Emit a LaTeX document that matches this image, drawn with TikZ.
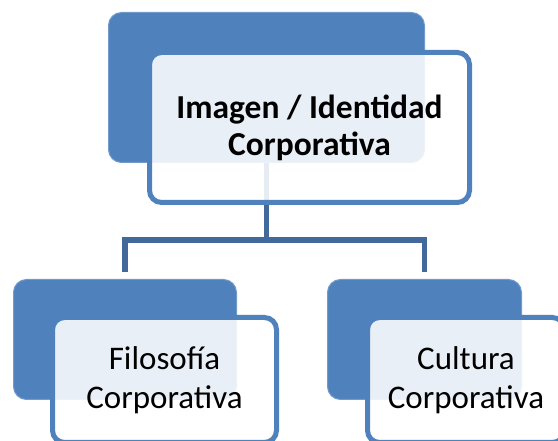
\documentclass[tikz,border=0pt]{standalone}
\usepackage{fontspec}
\setmainfont{Carlito}
\definecolor{accent}{HTML}{4F81BD}
\definecolor{conn}{HTML}{41699C}
\begin{document}
\begin{tikzpicture}[x=1pt,y=-1pt,
  backbox/.style={rectangle, rounded corners=13pt, fill=accent, draw=accent!80!white, line width=1pt, inner sep=0pt},
  frontbox/.style={rectangle, rounded corners=12pt, fill=white, fill opacity=0.88, text opacity=1, draw=accent, draw opacity=1, line width=5pt, inner sep=0pt, align=center, text=black},
  connector/.style={draw=conn, line width=5.5pt}]
\useasboundingbox (0,0) rectangle (558,441);
% back boxes
\node[backbox, minimum width=316pt, minimum height=150pt] (tb) at (266.5,87.5) {};
\node[backbox, minimum width=223pt, minimum height=120pt] (lb) at (125,339.5) {};
\node[backbox, minimum width=194pt, minimum height=120pt] (rb) at (424.5,339.5) {};
% connectors
\coordinate (bus) at (267,240);
\draw[connector] (tb.south) -- (tb.south |- bus) -| ([yshift=7pt]lb.north);
\draw[connector] (tb.south |- bus) -| ([yshift=7pt]rb.north);
% front boxes
\node[frontbox, minimum width=320pt, minimum height=150pt, font=\fontsize{33.5}{37}\selectfont\bfseries] (tf) at (309.5,127.5) {Imagen / Identidad\\Corporativa};
\node[frontbox, minimum width=224pt, minimum height=125pt, font=\fontsize{33}{39}\selectfont] (lf) at (164.5,380) {Filosofía\\Corporativa};
\node[frontbox, minimum width=197pt, minimum height=125pt, font=\fontsize{33}{39}\selectfont] (rf) at (466,380) {Cultura\\Corporativa};
\end{tikzpicture}
\end{document}
